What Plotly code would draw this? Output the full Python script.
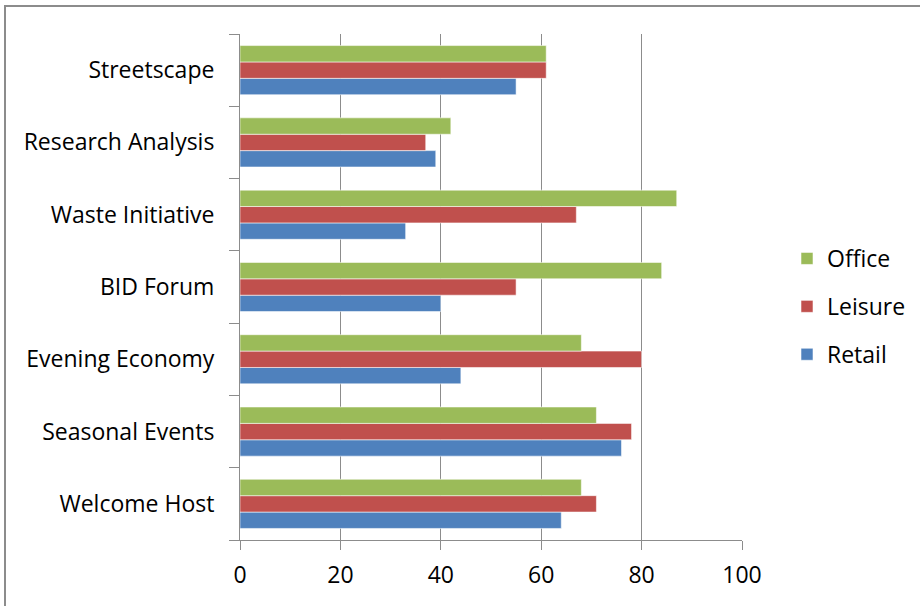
import plotly.graph_objects as go

# Categories listed bottom-to-top as they appear on the vertical axis
categories = [
    "Welcome Host",
    "Seasonal Events",
    "Evening Economy",
    "BID Forum",
    "Waste Initiative",
    "Research Analysis",
    "Streetscape",
]

retail = [64, 76, 44, 40, 33, 39, 55]
leisure = [71, 78, 80, 55, 67, 37, 61]
office = [68, 71, 68, 84, 87, 42, 61]

x_ticks = [0, 20, 40, 60, 80, 100]

series = [
    ("Retail", retail, "#4F81BD", 3),
    ("Leisure", leisure, "#C0504D", 2),
    ("Office", office, "#9BBB59", 1),
]

FONT = "'Open Sans', Carlito, Calibri, sans-serif"
FSIZE = 23
GRID = "#8C8C8C"

fig = go.Figure()
for name, vals, color, rank in series:
    fig.add_trace(
        go.Bar(
            name=name,
            y=categories,
            x=vals,
            orientation="h",
            marker=dict(color=color, line=dict(color="rgba(255,255,255,0.55)", width=1)),
            legendrank=rank,
            legendgroup=name,
        )
    )

# Chart-area frame
L, R, T, B = 240, 742, 34, 540
W, H = R - L, B - T


def px_x(p):
    return (p - L) / W


def px_y(p):
    return (B - p) / H


fig.add_shape(
    type="rect",
    xref="paper",
    yref="paper",
    x0=px_x(5),
    x1=px_x(930),
    y0=px_y(615),
    y1=px_y(6),
    line=dict(color="#8C8C8C", width=2),
    layer="below",
)

fig.update_layout(
    width=920,
    height=606,
    margin=dict(l=L, r=920 - R, t=T, b=606 - B, autoexpand=False),
    paper_bgcolor="white",
    plot_bgcolor="white",
    barmode="group",
    bargap=0.32,
    bargroupgap=0,
    font=dict(family=FONT, size=FSIZE, color="#000000"),
    showlegend=True,
    legend=dict(
        x=px_x(787),
        y=px_y(237),
        xanchor="left",
        yanchor="top",
        font=dict(family=FONT, size=FSIZE, color="#000000"),
        tracegroupgap=15,
        bgcolor="rgba(0,0,0,0)",
    ),
)

fig.update_xaxes(
    range=[0, 100],
    tickvals=x_ticks,
    showgrid=True,
    gridcolor=GRID,
    gridwidth=1,
    zeroline=False,
    showline=True,
    linecolor=GRID,
    linewidth=1,
    ticks="outside",
    ticklen=9,
    tickcolor=GRID,
    ticklabelstandoff=5,
    tickfont=dict(family=FONT, size=FSIZE),
    mirror=False,
)
fig.update_yaxes(
    type="category",
    categoryorder="array",
    categoryarray=categories,
    showgrid=False,
    showline=True,
    linecolor=GRID,
    linewidth=1,
    ticks="outside",
    tickson="boundaries",
    ticklen=10,
    tickcolor=GRID,
    ticklabelstandoff=20,
    tickfont=dict(family=FONT, size=FSIZE),
)

fig.write_html("out.html")
